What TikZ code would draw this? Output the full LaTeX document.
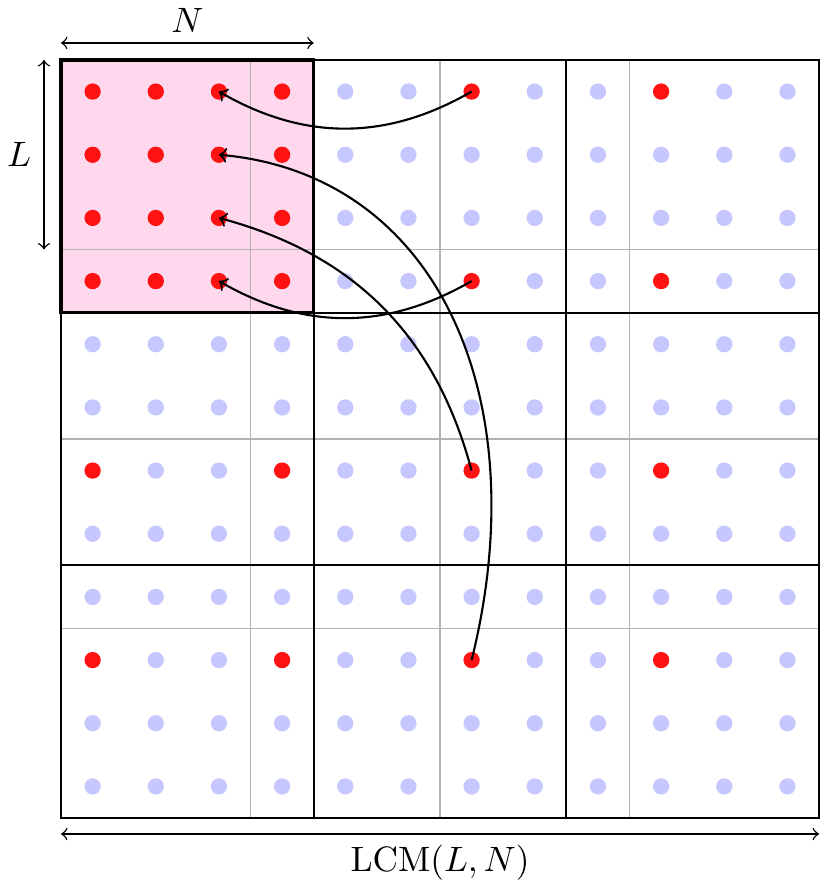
\documentclass[tikz,border=0pt]{standalone}
\definecolor{pinkfill}{RGB}{255,216,238}
\definecolor{dotblue}{RGB}{199,199,255}
\definecolor{dotred}{RGB}{255,18,18}
\begin{document}
\begin{tikzpicture}[x=0.63cm,y=0.63cm,
  dotstyle/.style={circle,inner sep=0pt,minimum size=4.63pt,fill=dotblue},
  reddot/.style={dotstyle,fill=dotred},
  gridthin/.style={draw=gray!60,line width=0.4pt},
  gridthick/.style={draw=black,line width=0.5pt},
  blockborder/.style={draw=black,line width=1pt},
  conn/.style={->,semithick,black},
  dimline/.style={<->,thin},
  lbl/.style={font=\normalsize}]
\useasboundingbox (-0.966,-1.108) rectangle (12.142,12.95);
\fill[pinkfill] (0,8) rectangle (4,12);
\foreach \k in {3,6,9} {
  \draw[gridthin] (\k,0) -- (\k,12);
  \draw[gridthin] (0,\k) -- (12,\k);
}
\foreach \k in {4,8} {
  \draw[gridthick] (\k,0) -- (\k,12);
  \draw[gridthick] (0,\k) -- (12,\k);
}
\draw[gridthick] (0,0) rectangle (12,12);
\draw[blockborder] (0,8) rectangle (4,12);
\foreach \i in {0,...,11} {
  \foreach \j in {0,...,11} {
    \pgfmathtruncatemacro\isred{or(and(\i<4,\j<4),and(mod(\i,3)==0,mod(\j,3)==0))}
    \ifnum\isred=1
      \node[reddot] (d-\i-\j) at (\i+0.5,11.5-\j) {};
    \else
      \node[dotstyle] (d-\i-\j) at (\i+0.5,11.5-\j) {};
    \fi
  }
}
\draw[conn] (d-6-0.center) to[bend left=30] (d-2-0.center);
\draw[conn] (d-6-3.center) to[bend left=30] (d-2-3.center);
\draw[conn] (d-6-6.center) to[bend right=30] (d-2-2.center);
\draw[conn] (d-6-9.center) .. controls +(76:4.27) and +(-5:3.48) .. (d-2-1.center);
% dimensions
\coordinate (nA) at (0,12.27);
\coordinate (nB) at (4,12.27);
\draw[dimline] (nA) -- (nB);
\node[lbl] (nlab) at (2,12.63) {$N$};
\coordinate (lA) at (-0.27,12);
\coordinate (lB) at (-0.27,9);
\draw[dimline] (lA) -- (lB);
\node[lbl] (llab) at (-0.665,10.5) {$L$};
\coordinate (cA) at (0,-0.253);
\coordinate (cB) at (12,-0.253);
\draw[dimline] (cA) -- (cB);
\node[lbl] (clab) at (6,-0.70) {$\mathrm{LCM}(L,N)$};
\end{tikzpicture}
\end{document}
